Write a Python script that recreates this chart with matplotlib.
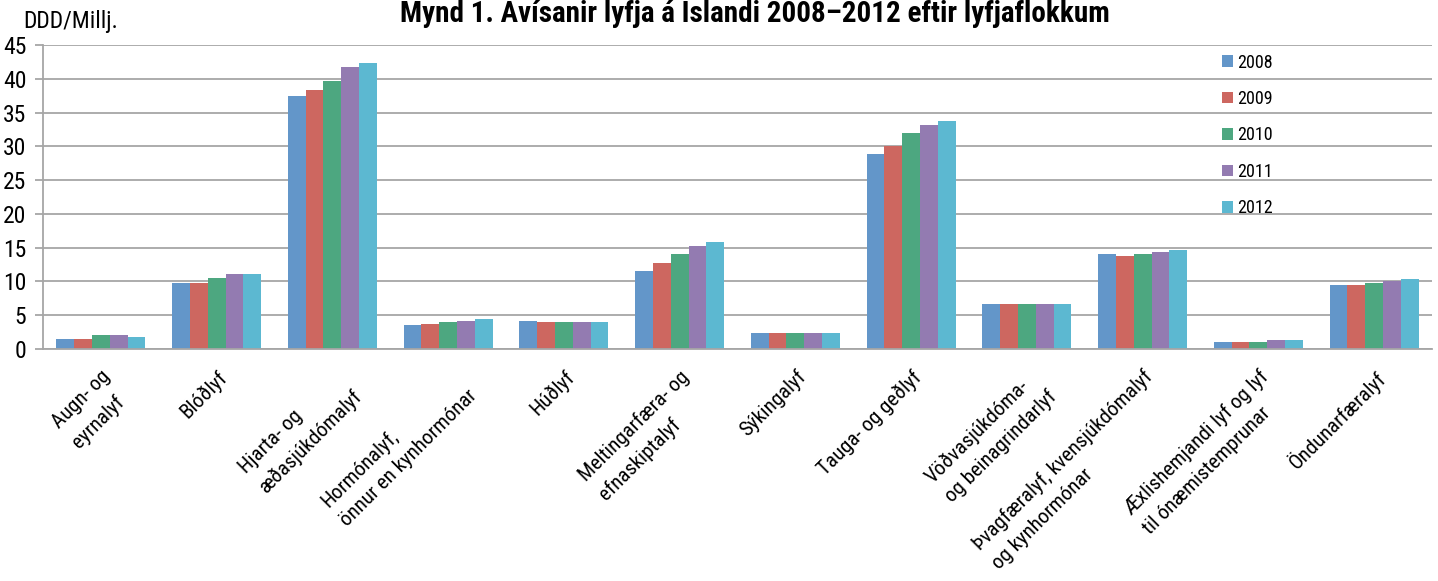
import matplotlib
matplotlib.use("Agg")
import matplotlib.pyplot as plt
import numpy as np

plt.rcParams["font.family"] = ["Roboto Condensed", "Roboto", "DejaVu Sans"]

categories = [
    "Augn- og\neyrnalyf",
    "Blóðlyf",
    "Hjarta- og\næðasjúkdómalyf",
    "Hormónalyf,\nönnur en kynhormónar",
    "Húðlyf",
    "Meltingarfæra- og\nefnaskiptalyf",
    "Sýkingalyf",
    "Tauga- og geðlyf",
    "Vöðvasjúkdóma-\nog beinagrindarlyf",
    "Þvagfæralyf, kvensjúkdómalyf\nog kynhormónar",
    "Æxlishemjandi lyf og lyf\ntil ónæmistemprunar",
    "Öndunarfæralyf",
]
years = ["2008", "2009", "2010", "2011", "2012"]

# DDD per million inhabitants per day, by drug class
ddd_2008 = [1.5, 9.8, 37.4, 3.6, 4.2, 11.6, 2.4, 28.9, 6.6, 14.1, 1.1, 9.4]
ddd_2009 = [1.5, 9.7, 38.3, 3.7, 4.0, 12.8, 2.4, 30.1, 6.6, 13.7, 1.1, 9.4]
ddd_2010 = [2.0, 10.5, 39.6, 4.0, 4.0, 14.1, 2.4, 31.9, 6.7, 14.0, 1.1, 9.7]
ddd_2011 = [2.0, 11.1, 41.8, 4.2, 4.0, 15.3, 2.4, 33.1, 6.7, 14.4, 1.4, 10.1]
ddd_2012 = [1.8, 11.1, 42.4, 4.5, 4.0, 15.9, 2.4, 33.7, 6.6, 14.6, 1.4, 10.3]
series = [ddd_2008, ddd_2009, ddd_2010, ddd_2011, ddd_2012]

colors = ["#6396c9", "#cd6760", "#4da780", "#937bb1", "#5cb8d1"]
grid_color = "#a6a6a6"

fig = plt.figure(figsize=(14.38, 5.81), dpi=100)
ax = fig.add_axes([43 / 1438, 1 - 349 / 581, 1389 / 1438, 304 / 581])

x = np.arange(len(categories))
width = 0.154
for i, (vals, year) in enumerate(zip(series, years)):
    ax.bar(x + (i - 2) * width, vals, width, color=colors[i], label=year, zorder=2)

ax.set_xlim(-0.5, len(categories) - 0.5)
ax.set_ylim(0, 45)
ax.set_yticks(np.arange(0, 46, 5))
ax.yaxis.grid(True, color=grid_color, linewidth=1.3, zorder=1)
ax.set_axisbelow(True)

for side in ["top", "right"]:
    ax.spines[side].set_visible(False)
for side in ["left", "bottom"]:
    ax.spines[side].set_color(grid_color)
    ax.spines[side].set_linewidth(1.3)

ax.tick_params(axis="y", length=6, width=1.3, color=grid_color, pad=6, labelsize=17)
ax.tick_params(axis="x", length=0, pad=13)
ax.set_xticks(x)
ax.set_xticklabels(categories, rotation=45, ha="right", va="top",
                   rotation_mode="anchor", multialignment="left",
                   fontsize=15, linespacing=1.5)

fig.text(23 / 1438, 1 - 28 / 581, "DDD/Millj.", fontsize=17, ha="left", va="baseline")
fig.text(755 / 1438, 1 - 22 / 581, "Mynd 1. Ávísanir lyfja á Íslandi 2008–2012 eftir lyfjaflokkum",
         fontsize=21, fontweight="bold", ha="center", va="baseline")

ax.legend(loc="upper left", bbox_to_anchor=(0.849, 0.972), frameon=False,
          fontsize=13, handlelength=0.6, handleheight=0.6,
          handletextpad=0.25, labelspacing=1.02, borderpad=0, borderaxespad=0)

fig.savefig("out.png", dpi=100)
